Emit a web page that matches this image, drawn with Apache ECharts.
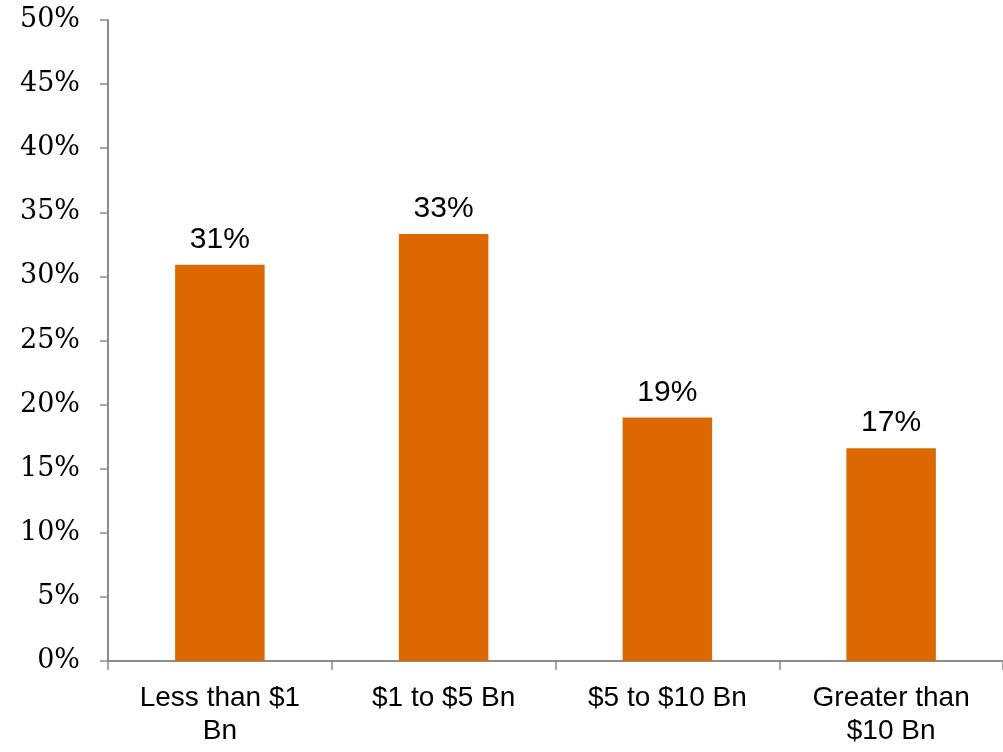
<!DOCTYPE html>
<html>
<head>
<meta charset="utf-8">
<script src="https://cdn.jsdelivr.net/npm/echarts@6/dist/echarts.min.js"></script>
<style>
  html, body { margin: 0; padding: 0; background: #fff; }
  #chart { width: 1003px; height: 752px; }
</style>
</head>
<body>
<div id="chart"></div>
<script>
const categories = ['Less than $1\nBn', '$1 to $5 Bn', '$5 to $10 Bn', 'Greater than\n$10 Bn'];
const values = [30.9, 33.3, 19.0, 16.6];
const valueLabels = ['31%', '33%', '19%', '17%'];
const yMin = 0, yMax = 50, yInterval = 5;

const chart = echarts.init(document.getElementById('chart'));
chart.setOption({
  animation: false,
  grid: { left: 108, right: 0, top: 20, bottom: 91, containLabel: false },
  xAxis: {
    type: 'category',
    data: categories,
    axisLine: { lineStyle: { color: '#8c8c8c', width: 2 } },
    axisTick: { show: true, length: 9, lineStyle: { color: '#8c8c8c', width: 1.5 } },
    axisLabel: {
      color: '#000', fontFamily: 'Liberation Sans, Arial, sans-serif', fontSize: 28,
      lineHeight: 33, margin: 21, interval: 0
    }
  },
  yAxis: {
    type: 'value',
    min: yMin, max: yMax, interval: yInterval,
    axisLine: { show: true, lineStyle: { color: '#8c8c8c', width: 2 } },
    axisTick: { show: true, length: 8, lineStyle: { color: '#8c8c8c', width: 1.5 } },
    splitLine: { show: false },
    axisLabel: {
      color: '#000', fontFamily: 'DejaVu Serif, Georgia, serif', fontSize: 27,
      margin: 28, formatter: v => v + '%'
    }
  },
  series: [{
    type: 'bar',
    data: values,
    barWidth: '40%',
    itemStyle: { color: '#DB6800' },
    label: {
      show: true, position: 'top', distance: 10,
      color: '#000', fontFamily: 'Liberation Sans, Arial, sans-serif', fontSize: 30,
      formatter: p => valueLabels[p.dataIndex]
    }
  }]
});
</script>
</body>
</html>
